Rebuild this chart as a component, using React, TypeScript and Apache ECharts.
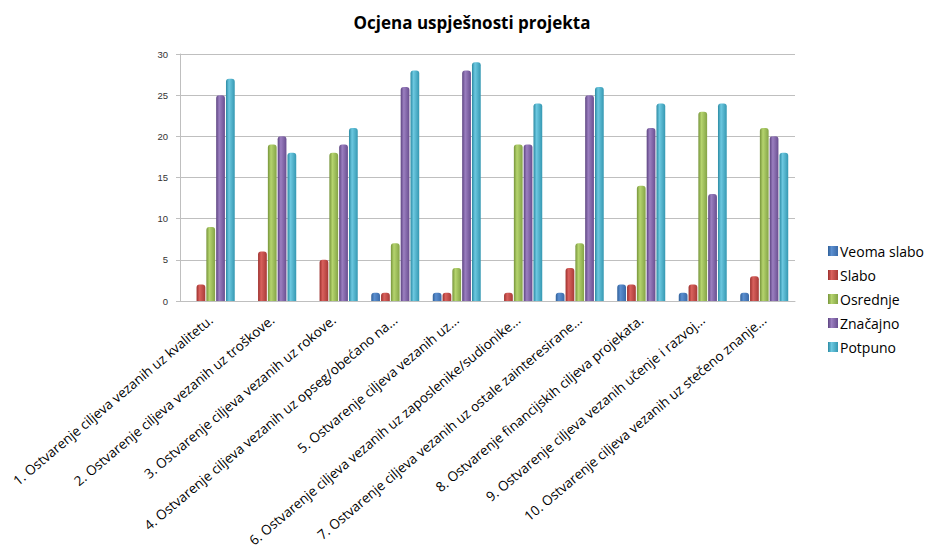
import React, { useEffect, useRef } from "react";
import * as echarts from "echarts";

const categories = [
  "1. Ostvarenje ciljeva vezanih uz kvalitetu.",
  "2. Ostvarenje ciljeva vezanih uz troškove.",
  "3. Ostvarenje ciljeva vezanih uz rokove.",
  "4. Ostvarenje ciljeva vezanih uz opseg/obećano na...",
  "5. Ostvarenje ciljeva vezanih uz...",
  "6. Ostvarenje ciljeva vezanih uz zaposlenike/sudionike...",
  "7. Ostvarenje ciljeva vezanih uz ostale zainteresirane...",
  "8. Ostvarenje financijskih ciljeva projekata.",
  "9. Ostvarenje ciljeva vezanih učenje i razvoj...",
  "10. Ostvarenje ciljeva vezanih uz stečeno znanje...",
];

const seriesNames = ["Veoma slabo", "Slabo", "Osrednje", "Značajno", "Potpuno"];
const veomaSlabo = [0, 0, 0, 1, 1, 0, 1, 2, 1, 1];
const slabo = [2, 6, 5, 1, 1, 1, 4, 2, 2, 3];
const osrednje = [9, 19, 18, 7, 4, 19, 7, 14, 23, 21];
const znacajno = [25, 20, 19, 26, 28, 19, 25, 21, 13, 20];
const potpuno = [27, 18, 21, 28, 29, 24, 26, 24, 24, 18];
const yTicks = [0, 5, 10, 15, 20, 25, 30];

const colors = [
  ["#2f5f98", "#5b8fd0", "#3a6aa8"],
  ["#9b2f2c", "#d9615d", "#a83a37"],
  ["#76943a", "#b5d46e", "#84a446"],
  ["#5c4380", "#9b7fc0", "#694e90"],
  ["#2b8aa3", "#6cc8e0", "#3598b2"],
];

export default function App() {
  const ref = useRef<HTMLDivElement>(null);
  useEffect(() => {
    const chart = echarts.init(ref.current!, null, { renderer: "svg" });
    const data = [veomaSlabo, slabo, osrednje, znacajno, potpuno];
    chart.setOption({
      animation: false,
      backgroundColor: "#ffffff",
      title: {
        text: "Ocjena uspješnosti projekta",
        left: 467,
        textAlign: "center",
        top: 9,
        textStyle: { fontFamily: "Open Sans", fontSize: 17, fontWeight: "bold", color: "#000" },
      },
      legend: {
        orient: "vertical",
        left: 823,
        top: 239,
        itemWidth: 10,
        itemHeight: 10,
        itemGap: 10,
        icon: "rect",
        data: seriesNames,
        textStyle: { fontFamily: "Open Sans", fontSize: 14, color: "#000", padding: [0, 0, 0, -3] },
      },
      grid: {
        left: 180,
        right: 132,
        top: 54,
        bottom: 250,
        containLabel: false,
        outerBoundsMode: "none",
      },
      xAxis: {
        type: "category",
        data: categories,
        axisLine: { show: true, lineStyle: { color: "#bfbfbf" } },
        axisTick: { show: false },
        axisLabel: {
          rotate: 40,
          interval: 0,
          margin: 17,
          fontFamily: "Open Sans",
          fontSize: 13.5,
          color: "#000",
        },
      },
      yAxis: {
        type: "value",
        min: 0,
        max: 30,
        interval: 5,
        axisLine: { show: true, lineStyle: { color: "#bfbfbf" } },
        axisTick: { show: true, length: 4, lineStyle: { color: "#bfbfbf" } },
        splitLine: { lineStyle: { color: "#bfbfbf", width: 1.2 } },
        axisLabel: {
          fontFamily: "Liberation Sans",
          fontSize: 9.5,
          color: "#333",
          margin: 12,
          formatter: (v: number) => (yTicks.includes(v) ? String(v) : ""),
        },
      },
      series: seriesNames.map((name, i) => ({
        name,
        type: "bar",
        data: data[i],
        barGap: "12%",
        barCategoryGap: "22%",
        itemStyle: {
          color: new echarts.graphic.LinearGradient(0, 0, 1, 0, [
            { offset: 0, color: colors[i][0] },
            { offset: 0.35, color: colors[i][1] },
            { offset: 1, color: colors[i][2] },
          ]),
          borderRadius: [3, 3, 0, 0],
        },
      })),
      color: colors.map((c) => c[2]),
    });
    return () => chart.dispose();
  }, []);
  return (
    <div
      ref={ref}
      style={{ position: "fixed", left: 0, top: 0, width: 927, height: 551 }}
    />
  );
}
